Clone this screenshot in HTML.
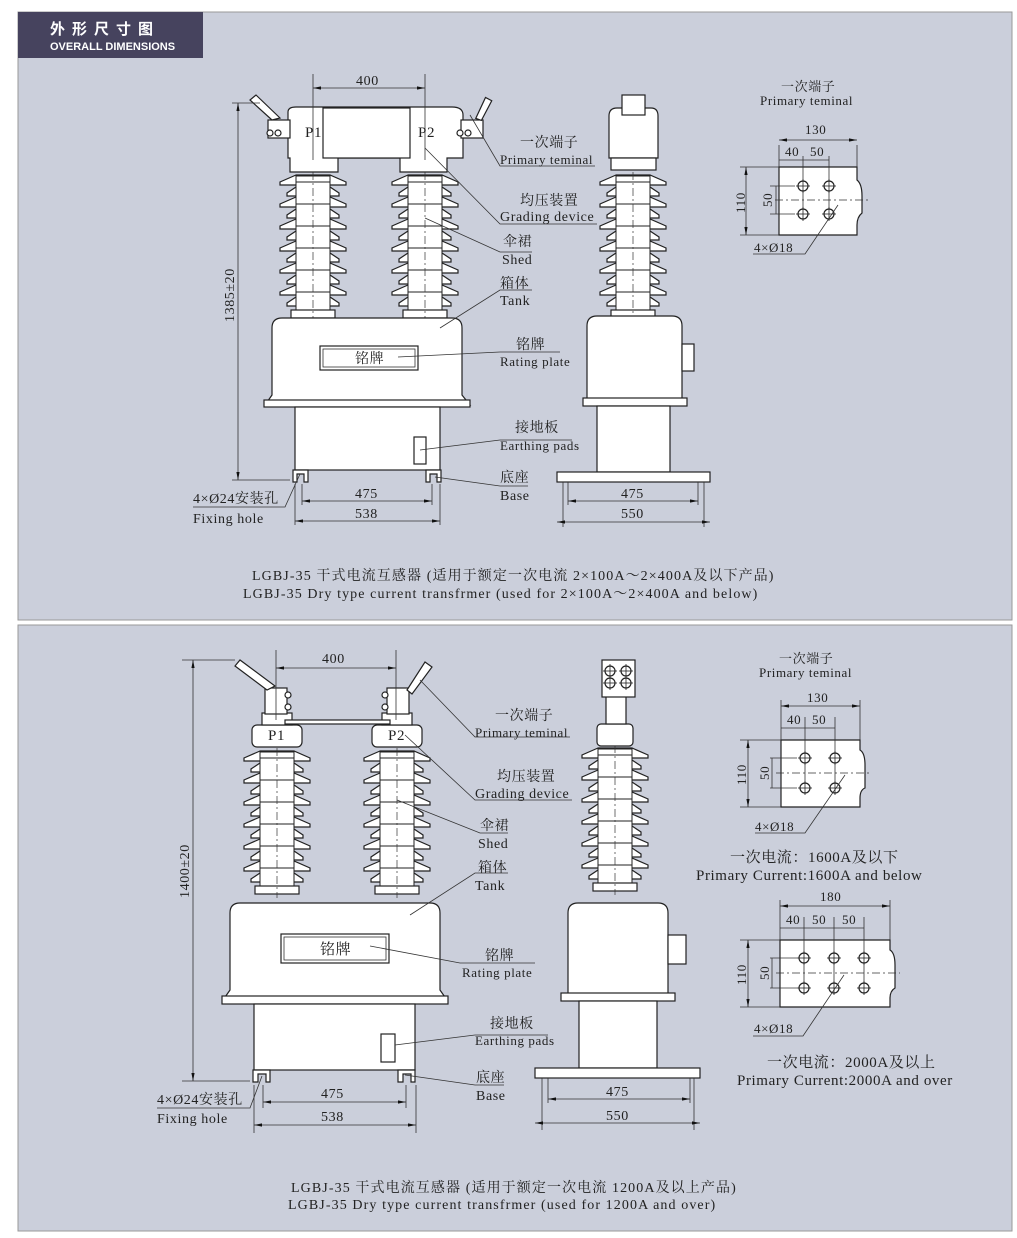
<!DOCTYPE html>
<html><head><meta charset="utf-8"><style>
html,body{margin:0;padding:0;background:#fff}
svg{display:block}
text{font-family:"Liberation Serif","Noto Serif CJK SC",serif;fill:#222;letter-spacing:0.6px}
.s{fill:#fff;stroke:#222;stroke-width:1.2}
.l{fill:none;stroke:#333;stroke-width:0.8}
.d{fill:none;stroke:#333;stroke-width:0.7;stroke-dasharray:8 3 2 3}
</style></head><body>
<svg width="1017" height="1238" viewBox="0 0 1017 1238" xmlns="http://www.w3.org/2000/svg">
<defs>
<marker id="a" markerWidth="10" markerHeight="6" refX="10" refY="3" orient="auto-start-reverse"><path d="M0,1 L10,3 L0,5Z" fill="#111"/></marker>
<g id="shB"><path class="s" d="M-17,-7 L-33,0 L-33,3 L33,3 L33,0 L17,-7Z"/></g>
<g id="shS"><path class="s" d="M-17,-6 L-26,0 L-26,3 L26,3 L26,0 L17,-6Z"/></g>
<g id="ins">
<use href="#shB" y="0"/><use href="#shS" y="11"/><use href="#shB" y="22"/><use href="#shS" y="33"/><use href="#shB" y="44"/><use href="#shS" y="55"/><use href="#shB" y="66"/><use href="#shS" y="77"/><use href="#shB" y="88"/><use href="#shS" y="99"/><use href="#shB" y="110"/><use href="#shS" y="121"/>
<rect x="-17" y="-6" width="34" height="134" fill="#fff" stroke="#222" stroke-width="1"/>
<line x1="-17" y1="0" x2="17" y2="0" stroke="#222"/><line x1="-17" y1="22" x2="17" y2="22" stroke="#222"/><line x1="-17" y1="44" x2="17" y2="44" stroke="#222"/><line x1="-17" y1="66" x2="17" y2="66" stroke="#222"/><line x1="-17" y1="88" x2="17" y2="88" stroke="#222"/><line x1="-17" y1="110" x2="17" y2="110" stroke="#222"/>
<rect x="-22" y="128" width="44" height="8" class="s"/>
<line x1="0" y1="-10" x2="0" y2="140" class="d"/>
</g>
<g id="hole"><circle r="5" class="s"/><line x1="-7" y1="0" x2="7" y2="0" stroke="#222" stroke-width="0.8"/><line x1="0" y1="-7" x2="0" y2="7" stroke="#222" stroke-width="0.8"/></g>
</defs>
<rect width="1017" height="1238" fill="#fff"/>
<rect x="18" y="12" width="994" height="608" fill="#cbcfdb" stroke="#999"/>
<rect x="18" y="625" width="994" height="606" fill="#cbcfdb" stroke="#999"/>
<rect x="18" y="12" width="185" height="46" fill="#46435e"/>
<text x="50" y="34" style="font-family:'Liberation Sans','Noto Sans CJK SC',sans-serif;fill:#fff;font-size:15px;font-weight:bold;letter-spacing:7px">外形尺寸图</text>
<text x="50" y="50" style="font-family:'Liberation Sans',sans-serif;fill:#fff;font-size:11px;font-weight:bold;letter-spacing:0">OVERALL DIMENSIONS</text>

<!-- ===== TOP FRONT ===== -->
<use href="#ins" x="313" y="182"/>
<use href="#ins" x="425" y="182"/>
<path class="s" d="M288,112 Q288,107 296,107 L452,107 Q463,107 463,115 L463,158 L447,158 L447,172 L400,172 L400,158 L338,158 L338,172 L290,172 L290,158 L288,158Z"/>
<rect x="323" y="108" width="87" height="50" class="s"/>
<rect x="268" y="120" width="22" height="18" class="s"/><rect x="461" y="120" width="22" height="18" class="s"/>
<path class="s" d="M272,120 L250,100 L256,95 L280,118Z"/><path class="s" d="M479,120 L481,97 L488,98 L485,120Z" transform="rotate(20 482 110)"/>
<circle cx="270" cy="133" r="3" class="s"/><circle cx="278" cy="133" r="3" class="s"/><circle cx="460" cy="133" r="3" class="s"/><circle cx="468" cy="133" r="3" class="s"/>
<text x="305" y="137" font-size="15">P1</text><text x="418" y="137" font-size="15">P2</text>
<path class="s" d="M272,328 Q272,318 282,318 L452,318 Q462,318 462,328 L462,395 L470,405 L265,405 L272,395Z"/>
<rect x="264" y="400" width="206" height="7" class="s"/>
<rect x="320" y="346" width="98" height="24" class="s"/><rect x="323" y="349" width="92" height="18" class="l"/>
<text x="355" y="363" font-size="14">铭牌</text>
<rect x="295" y="407" width="145" height="63" class="s"/>
<rect x="414" y="437" width="12" height="27" class="s"/>
<path class="s" d="M293,470 L308,470 L308,482 L304,482 L304,474 L297,474 L297,482 L293,482Z"/>
<path class="s" d="M426,470 L441,470 L441,482 L437,482 L437,474 L430,474 L430,482 L426,482Z"/>
<line x1="313" y1="74" x2="313" y2="160" class="l"/><line x1="425" y1="74" x2="425" y2="160" class="l"/>
<line x1="313" y1="88" x2="425" y2="88" class="l" marker-start="url(#a)" marker-end="url(#a)"/>
<text x="356" y="85" font-size="14">400</text>
<line x1="232" y1="103" x2="260" y2="103" class="l"/><line x1="232" y1="480" x2="290" y2="480" class="l"/>
<line x1="238" y1="103" x2="238" y2="480" class="l" marker-start="url(#a)" marker-end="url(#a)"/>
<text transform="translate(234,322) rotate(-90)" font-size="14">1385±20</text>
<line x1="295" y1="484" x2="295" y2="525" class="l"/><line x1="440" y1="484" x2="440" y2="525" class="l"/>
<line x1="302" y1="484" x2="302" y2="505" class="l"/><line x1="432" y1="484" x2="432" y2="505" class="l"/>
<line x1="302" y1="501" x2="432" y2="501" class="l" marker-start="url(#a)" marker-end="url(#a)"/>
<line x1="295" y1="521" x2="440" y2="521" class="l" marker-start="url(#a)" marker-end="url(#a)"/>
<text x="355" y="498" font-size="14">475</text><text x="355" y="518" font-size="14">538</text>
<text x="193" y="503" font-size="14">4×Ø24安装孔</text><text x="193" y="523" font-size="14">Fixing hole</text>
<polyline points="193,507 285,507 300,474" class="l"/>
<polyline points="470,115 500,166 595,166" class="l"/><text x="520" y="147" font-size="14">一次端子</text><text x="500" y="164" font-size="13">Primary teminal</text>
<polyline points="425,148 500,224 597,224" class="l"/><text x="520" y="205" font-size="14">均压装置</text><text x="500" y="221" font-size="14">Grading device</text>
<polyline points="425,218 500,252 532,252" class="l"/><text x="503" y="246" font-size="14">伞裙</text><text x="502" y="264" font-size="14">Shed</text>
<polyline points="440,328 500,290 532,290" class="l"/><text x="500" y="288" font-size="14">箱体</text><text x="500" y="305" font-size="14">Tank</text>
<polyline points="398,357 500,352 560,352" class="l"/><text x="516" y="349" font-size="14">铭牌</text><text x="500" y="366" font-size="13">Rating plate</text>
<polyline points="420,450 500,440 572,440" class="l"/><text x="515" y="432" font-size="14">接地板</text><text x="500" y="450" font-size="13">Earthing pads</text>
<polyline points="435,477 500,486 528,486" class="l"/><text x="500" y="482" font-size="14">底座</text><text x="500" y="500" font-size="14">Base</text>
<use href="#ins" x="633" y="182"/>
<path class="s" d="M609,116 Q609,108 617,108 L651,108 Q658,108 658,116 L658,158 L609,158Z"/>
<rect x="611" y="158" width="45" height="12" class="s"/>
<rect x="622" y="95" width="23" height="20" class="s"/>
<path class="s" d="M587,326 Q587,316 597,316 L672,316 Q682,316 682,326 L682,400 L587,400Z"/>
<rect x="682" y="344" width="12" height="27" class="s"/>
<rect x="583" y="398" width="104" height="8" class="s"/>
<rect x="597" y="406" width="73" height="66" class="s"/>
<rect x="557" y="472" width="153" height="10" class="s"/>
<line x1="563" y1="482" x2="563" y2="527" class="l"/><line x1="704" y1="482" x2="704" y2="527" class="l"/>
<line x1="568" y1="482" x2="568" y2="505" class="l"/><line x1="698" y1="482" x2="698" y2="505" class="l"/>
<line x1="568" y1="501" x2="698" y2="501" class="l" marker-start="url(#a)" marker-end="url(#a)"/>
<line x1="557" y1="522" x2="710" y2="522" class="l" marker-start="url(#a)" marker-end="url(#a)"/>
<text x="621" y="498" font-size="14">475</text><text x="621" y="518" font-size="14">550</text>
<text x="781" y="91" font-size="13">一次端子</text><text x="760" y="105" font-size="13">Primary teminal</text>
<path class="s" d="M779,167 L857,167 L857,180 Q862,184 862,196 L862,213 Q857,217 857,225 L857,235 L779,235Z"/>
<line x1="779" y1="145" x2="779" y2="167" class="l"/><line x1="857" y1="145" x2="857" y2="167" class="l"/>
<line x1="779" y1="140" x2="857" y2="140" class="l" marker-start="url(#a)" marker-end="url(#a)"/><text x="805" y="134" font-size="13">130</text>
<line x1="803" y1="156" x2="803" y2="210" class="l"/><line x1="829" y1="156" x2="829" y2="210" class="l"/>
<line x1="779" y1="160" x2="829" y2="160" class="l"/><text x="785" y="156" font-size="13">40</text><text x="810" y="156" font-size="13">50</text>
<line x1="740" y1="167" x2="779" y2="167" class="l"/><line x1="740" y1="235" x2="779" y2="235" class="l"/>
<line x1="746" y1="167" x2="746" y2="235" class="l" marker-start="url(#a)" marker-end="url(#a)"/><text transform="translate(745,213) rotate(-90)" font-size="13">110</text>
<line x1="770" y1="186" x2="795" y2="186" class="l"/><line x1="770" y1="214" x2="795" y2="214" class="l"/><line x1="776" y1="186" x2="776" y2="214" class="l"/><text transform="translate(772,207) rotate(-90)" font-size="13">50</text>
<line x1="775" y1="200" x2="870" y2="200" class="d"/>
<use href="#hole" x="803" y="186"/><use href="#hole" x="829" y="186"/><use href="#hole" x="803" y="214"/><use href="#hole" x="829" y="214"/>
<polyline points="753,254 805,254 838,205" class="l"/><text x="754" y="252" font-size="13">4×Ø18</text>
<text x="252" y="580" font-size="14" style="letter-spacing:1.1px">LGBJ-35 干式电流互感器 (适用于额定一次电流 2×100A～2×400A及以下产品)</text>
<text x="243" y="598" font-size="14" style="letter-spacing:1.1px">LGBJ-35 Dry type current transfrmer (used for 2×100A～2×400A and below)</text>

<!-- ===== BOTTOM FRONT ===== -->
<use href="#ins" x="277" y="758"/>
<use href="#ins" x="397" y="758"/>
<rect x="252" y="725" width="50" height="22" rx="5" class="s"/><rect x="372" y="725" width="50" height="22" rx="5" class="s"/>
<rect x="262" y="713" width="30" height="12" class="s"/><rect x="382" y="713" width="30" height="12" class="s"/>
<rect x="285" y="720" width="105" height="4" class="s"/>
<rect x="265" y="688" width="22" height="26" class="s"/><rect x="387" y="688" width="22" height="26" class="s"/>
<path class="s" d="M267,690 L235,666 L240,660 L275,686Z"/><path class="s" d="M407,690 L425,662 L432,667 L412,694Z"/>
<circle cx="288" cy="695" r="3" class="s"/><circle cx="288" cy="707" r="3" class="s"/><circle cx="385" cy="695" r="3" class="s"/><circle cx="385" cy="707" r="3" class="s"/>
<text x="268" y="740" font-size="15">P1</text><text x="388" y="740" font-size="15">P2</text>
<path class="s" d="M230,913 Q230,903 240,903 L430,903 Q440,903 440,913 L440,990 L447,1000 L223,1000 L230,990Z"/>
<rect x="222" y="996" width="226" height="8" class="s"/>
<rect x="281" y="934" width="108" height="29" class="s"/><rect x="284" y="937" width="102" height="23" class="l"/>
<text x="320" y="954" font-size="15">铭牌</text>
<rect x="254" y="1004" width="161" height="66" class="s"/>
<rect x="381" y="1034" width="14" height="28" class="s"/>
<path class="s" d="M253,1070 L270,1070 L270,1082 L266,1082 L266,1074 L258,1074 L258,1082 L253,1082Z"/>
<path class="s" d="M398,1070 L415,1070 L415,1082 L411,1082 L411,1074 L403,1074 L403,1082 L398,1082Z"/>
<line x1="276" y1="650" x2="276" y2="720" class="l"/><line x1="396" y1="650" x2="396" y2="720" class="l"/>
<line x1="276" y1="668" x2="396" y2="668" class="l" marker-start="url(#a)" marker-end="url(#a)"/><text x="322" y="663" font-size="14">400</text>
<line x1="182" y1="660" x2="235" y2="660" class="l"/><line x1="182" y1="1081" x2="250" y2="1081" class="l"/>
<line x1="193" y1="660" x2="193" y2="1081" class="l" marker-start="url(#a)" marker-end="url(#a)"/>
<text transform="translate(189,898) rotate(-90)" font-size="14">1400±20</text>
<line x1="254" y1="1085" x2="254" y2="1133" class="l"/><line x1="416" y1="1085" x2="416" y2="1133" class="l"/>
<line x1="263" y1="1085" x2="263" y2="1108" class="l"/><line x1="406" y1="1085" x2="406" y2="1108" class="l"/>
<line x1="263" y1="1102" x2="406" y2="1102" class="l" marker-start="url(#a)" marker-end="url(#a)"/>
<line x1="254" y1="1125" x2="416" y2="1125" class="l" marker-start="url(#a)" marker-end="url(#a)"/>
<text x="321" y="1098" font-size="14">475</text><text x="321" y="1121" font-size="14">538</text>
<text x="157" y="1104" font-size="14">4×Ø24安装孔</text><text x="157" y="1123" font-size="14">Fixing hole</text>
<polyline points="157,1108 250,1108 262,1076" class="l"/>
<polyline points="420,680 475,737 570,737" class="l"/><text x="495" y="720" font-size="14">一次端子</text><text x="475" y="737" font-size="13">Primary teminal</text>
<polyline points="405,735 475,800 572,800" class="l"/><text x="497" y="781" font-size="14">均压装置</text><text x="475" y="798" font-size="14">Grading device</text>
<polyline points="397,800 480,833 508,833" class="l"/><text x="480" y="830" font-size="14">伞裙</text><text x="478" y="848" font-size="14">Shed</text>
<polyline points="410,915 475,873 508,873" class="l"/><text x="478" y="872" font-size="14">箱体</text><text x="475" y="890" font-size="14">Tank</text>
<polyline points="370,946 460,963 535,963" class="l"/><text x="485" y="960" font-size="14">铭牌</text><text x="462" y="977" font-size="13">Rating plate</text>
<polyline points="395,1045 475,1035 548,1035" class="l"/><text x="490" y="1028" font-size="14">接地板</text><text x="475" y="1045" font-size="13">Earthing pads</text>
<polyline points="405,1075 475,1085 504,1085" class="l"/><text x="476" y="1082" font-size="14">底座</text><text x="476" y="1100" font-size="14">Base</text>
<use href="#ins" x="615" y="755"/>
<rect x="597" y="724" width="36" height="22" rx="4" class="s"/>
<rect x="606" y="696" width="20" height="28" class="s"/>
<rect x="602" y="660" width="33" height="37" class="s"/>
<use href="#hole" x="610" y="671"/><use href="#hole" x="626" y="671"/><use href="#hole" x="610" y="683"/><use href="#hole" x="626" y="683"/>
<path class="s" d="M568,913 Q568,903 578,903 L658,903 Q668,903 668,913 L668,995 L568,995Z"/>
<rect x="668" y="935" width="18" height="29" class="s"/>
<rect x="561" y="993" width="114" height="8" class="s"/>
<rect x="579" y="1001" width="78" height="67" class="s"/>
<rect x="535" y="1068" width="165" height="10" class="s"/>
<line x1="542" y1="1078" x2="542" y2="1130" class="l"/><line x1="694" y1="1078" x2="694" y2="1130" class="l"/>
<line x1="548" y1="1078" x2="548" y2="1103" class="l"/><line x1="690" y1="1078" x2="690" y2="1103" class="l"/>
<line x1="548" y1="1099" x2="690" y2="1099" class="l" marker-start="url(#a)" marker-end="url(#a)"/>
<line x1="535" y1="1123" x2="700" y2="1123" class="l" marker-start="url(#a)" marker-end="url(#a)"/>
<text x="606" y="1096" font-size="14">475</text><text x="606" y="1120" font-size="14">550</text>
<text x="779" y="663" font-size="13">一次端子</text><text x="759" y="677" font-size="13">Primary teminal</text>
<path class="s" d="M781,740 L860,740 L860,750 Q865,753 865,765 L865,788 Q860,790 860,798 L860,807 L781,807Z"/>
<line x1="781" y1="700" x2="781" y2="740" class="l"/><line x1="860" y1="700" x2="860" y2="740" class="l"/>
<line x1="781" y1="706" x2="860" y2="706" class="l" marker-start="url(#a)" marker-end="url(#a)"/><text x="807" y="702" font-size="13">130</text>
<line x1="805" y1="717" x2="805" y2="788" class="l"/><line x1="835" y1="717" x2="835" y2="788" class="l"/>
<line x1="781" y1="728" x2="835" y2="728" class="l"/><text x="787" y="724" font-size="13">40</text><text x="812" y="724" font-size="13">50</text>
<line x1="740" y1="740" x2="781" y2="740" class="l"/><line x1="740" y1="807" x2="781" y2="807" class="l"/>
<line x1="748" y1="740" x2="748" y2="807" class="l" marker-start="url(#a)" marker-end="url(#a)"/><text transform="translate(746,785) rotate(-90)" font-size="13">110</text>
<line x1="770" y1="758" x2="797" y2="758" class="l"/><line x1="770" y1="788" x2="797" y2="788" class="l"/><line x1="772" y1="758" x2="772" y2="788" class="l"/><text transform="translate(769,780) rotate(-90)" font-size="13">50</text>
<line x1="776" y1="773" x2="870" y2="773" class="d"/>
<use href="#hole" x="805" y="758"/><use href="#hole" x="835" y="758"/><use href="#hole" x="805" y="788"/><use href="#hole" x="835" y="788"/>
<polyline points="755,833 805,833 845,775" class="l"/><text x="755" y="831" font-size="13">4×Ø18</text>
<text x="730" y="862" font-size="15">一次电流：1600A及以下</text>
<text x="696" y="880" font-size="15">Primary Current:1600A and below</text>
<path class="s" d="M780,940 L890,940 L890,950 Q895,953 895,965 L895,988 Q890,991 890,998 L890,1007 L780,1007Z"/>
<line x1="780" y1="900" x2="780" y2="940" class="l"/><line x1="890" y1="900" x2="890" y2="940" class="l"/>
<line x1="780" y1="906" x2="890" y2="906" class="l" marker-start="url(#a)" marker-end="url(#a)"/><text x="820" y="901" font-size="13">180</text>
<line x1="804" y1="917" x2="804" y2="988" class="l"/><line x1="834" y1="917" x2="834" y2="988" class="l"/><line x1="864" y1="917" x2="864" y2="988" class="l"/>
<line x1="780" y1="928" x2="864" y2="928" class="l"/><text x="786" y="924" font-size="13">40</text><text x="812" y="924" font-size="13">50</text><text x="842" y="924" font-size="13">50</text>
<line x1="740" y1="940" x2="780" y2="940" class="l"/><line x1="740" y1="1007" x2="780" y2="1007" class="l"/>
<line x1="748" y1="940" x2="748" y2="1007" class="l" marker-start="url(#a)" marker-end="url(#a)"/><text transform="translate(746,985) rotate(-90)" font-size="13">110</text>
<line x1="770" y1="958" x2="797" y2="958" class="l"/><line x1="770" y1="988" x2="797" y2="988" class="l"/><line x1="772" y1="958" x2="772" y2="988" class="l"/><text transform="translate(769,980) rotate(-90)" font-size="13">50</text>
<line x1="776" y1="973" x2="900" y2="973" class="d"/>
<use href="#hole" x="804" y="958"/><use href="#hole" x="834" y="958"/><use href="#hole" x="864" y="958"/><use href="#hole" x="804" y="988"/><use href="#hole" x="834" y="988"/><use href="#hole" x="864" y="988"/>
<polyline points="753,1036 803,1036 844,975" class="l"/><text x="754" y="1033" font-size="13">4×Ø18</text>
<text x="767" y="1067" font-size="15">一次电流：2000A及以上</text>
<text x="737" y="1085" font-size="15">Primary Current:2000A and over</text>
<text x="291" y="1192" font-size="14" style="letter-spacing:1.1px">LGBJ-35 干式电流互感器 (适用于额定一次电流 1200A及以上产品)</text>
<text x="288" y="1209" font-size="14" style="letter-spacing:1.1px">LGBJ-35 Dry type current transfrmer (used for 1200A and over)</text>
</svg>
</body></html>
